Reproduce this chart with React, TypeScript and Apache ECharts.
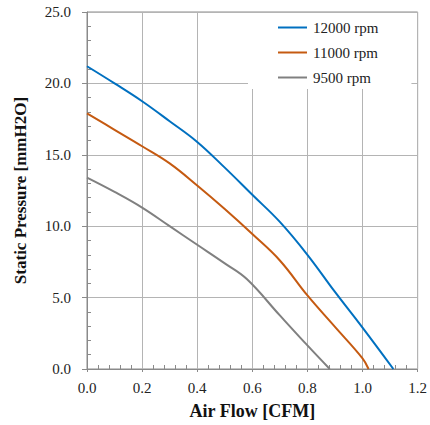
import React, { useEffect, useRef } from "react";
import * as echarts from "echarts";

const flow12000 = [0, 0.1, 0.2, 0.3, 0.4, 0.5, 0.6, 0.7, 0.8, 0.9, 1.0, 1.112];
const pres12000 = [21.2, 20.0, 18.75, 17.35, 15.9, 14.1, 12.2, 10.3, 8.0, 5.4, 2.9, 0];

const flow11000 = [0, 0.1, 0.2, 0.3, 0.4, 0.5, 0.6, 0.7, 0.8, 0.9, 1.0, 1.022];
const pres11000 = [17.9, 16.75, 15.6, 14.4, 12.85, 11.2, 9.45, 7.6, 5.15, 2.95, 0.75, 0];

const flow9500 = [0, 0.1, 0.2, 0.3, 0.4, 0.5, 0.58, 0.7, 0.8, 0.881];
const pres9500 = [13.4, 12.4, 11.3, 10.0, 8.7, 7.4, 6.3, 3.75, 1.65, 0];

const seriesNames = ["12000 rpm", "11000 rpm", "9500 rpm"];
const seriesColors = ["#0070C0", "#C55A11", "#808080"];

const xTitle = "Air Flow [CFM]";
const yTitle = "Static Pressure [mmH2O]";

const zip = (xs: number[], ys: number[]) => xs.map((x, i) => [x, ys[i]]);

export default function App() {
  const ref = useRef<HTMLDivElement>(null);
  useEffect(() => {
    if (!ref.current) return;
    const chart = echarts.init(ref.current, undefined, { renderer: "svg" });
    const font = "Times New Roman, Liberation Serif, serif";
    const datasets = [
      zip(flow12000, pres12000),
      zip(flow11000, pres11000),
      zip(flow9500, pres9500),
    ];
    chart.setOption({
      animation: false,
      textStyle: { fontFamily: font },
      grid: {
        left: 87,
        right: 9,
        top: 12,
        bottom: 55,
        show: true,
        borderColor: "#8a8a8a",
        borderWidth: 1,
        backgroundColor: "transparent",
      },
      legend: {
        left: 248,
        top: 13,
        orient: "vertical",
        backgroundColor: "#ffffff",
        padding: [7, 33, 4, 30],
        itemGap: 10,
        itemWidth: 29,
        itemHeight: 2,
        icon: "rect",
        textStyle: { fontFamily: font, fontSize: 15, color: "#222", padding: [0, 0, 0, 1] },
        data: seriesNames,
      },
      xAxis: [
        {
          type: "value",
          min: 0,
          max: 1.2,
          interval: 0.2,
          name: xTitle,
          nameLocation: "middle",
          nameGap: 33,
          nameTextStyle: { fontFamily: font, fontSize: 18, fontWeight: "bold", color: "#111" },
          axisLine: { show: true, lineStyle: { color: "#8a8a8a" } },
          axisTick: { show: true, length: 3, lineStyle: { color: "#8a8a8a" } },
          axisLabel: {
            margin: 11,
            fontFamily: font,
            fontSize: 15,
            color: "#222",
            formatter: (v: number) => v.toFixed(1),
          },
          splitLine: { show: true, lineStyle: { color: "#b4b4b4" } },
        },
        {
          type: "value",
          min: 0,
          max: 1.2,
          interval: 0.2,
          position: "bottom",
          axisLine: { show: false },
          axisTick: { show: false, inside: true },
          minorTick: { show: true, splitNumber: 5, length: 4, lineStyle: { color: "#8a8a8a" } },
          axisLabel: { show: false },
          splitLine: { show: false },
        },
      ],
      yAxis: [
        {
          type: "value",
          min: 0,
          max: 25,
          interval: 5,
          name: yTitle,
          nameLocation: "middle",
          nameGap: 58,
          nameTextStyle: { fontFamily: font, fontSize: 17, fontWeight: "bold", color: "#111" },
          axisLine: { show: true, lineStyle: { color: "#8a8a8a" } },
          axisTick: { show: true, length: 5, lineStyle: { color: "#8a8a8a" } },
          axisLabel: {
            margin: 16,
            fontFamily: font,
            fontSize: 15,
            color: "#222",
            formatter: (v: number) => v.toFixed(1),
          },
          splitLine: { show: true, lineStyle: { color: "#b4b4b4" } },
        },
        {
          type: "value",
          min: 0,
          max: 25,
          interval: 5,
          position: "left",
          axisLine: { show: false },
          axisTick: { show: false, inside: true },
          minorTick: { show: true, splitNumber: 5, length: 4, lineStyle: { color: "#8a8a8a" } },
          axisLabel: { show: false },
          splitLine: { show: false },
        },
      ],
      series: seriesNames.map((name, i) => ({
        name,
        type: "line",
        data: datasets[i],
        smooth: 0.4,
        symbol: "none",
        color: seriesColors[i],
        lineStyle: { width: 2, color: seriesColors[i] },
        z: 3,
      })),
    });
    return () => chart.dispose();
  }, []);
  return (
    <div
      ref={ref}
      style={{ position: "absolute", left: 0, top: 0, width: 430, height: 425, background: "#fff" }}
    />
  );
}
